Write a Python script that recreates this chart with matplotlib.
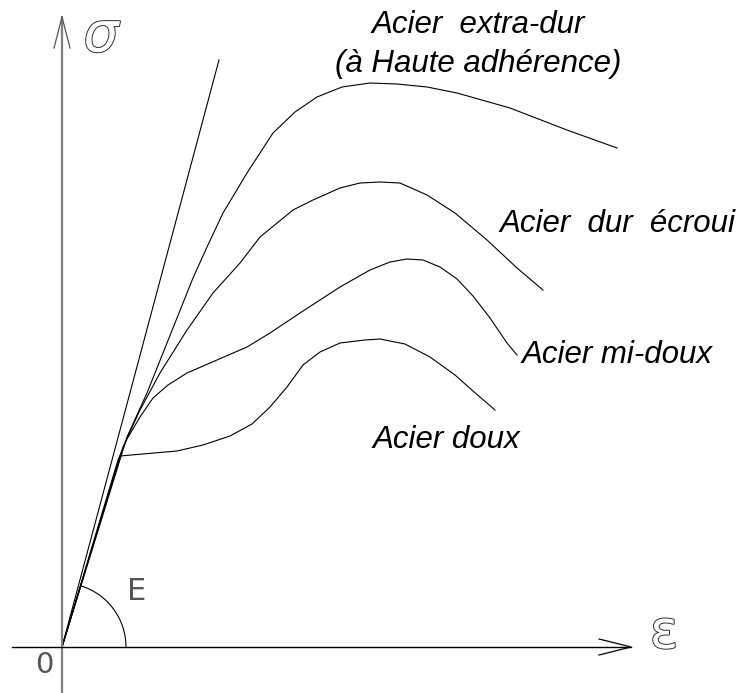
import numpy as np
import matplotlib
matplotlib.use("Agg")
import matplotlib.pyplot as plt
from matplotlib.patches import Arc
import matplotlib.patheffects as pe

# ---- data (strain, stress), arbitrary units ----
elastic_eps = [0, 157]
elastic_sig = [0, 587]

extra_dur_eps = [0, 65, 85, 105, 125, 131, 145, 161, 185, 211, 233, 255, 280, 308, 335, 365, 395, 448, 505, 555]
extra_dur_sig = [0, 210, 254, 304, 354, 369, 400, 434, 474, 514, 535, 550, 560, 564, 563, 560, 554, 539, 517, 499]

dur_ecroui_eps = [0, 61, 78, 98, 125, 151, 178, 198, 231, 251, 278, 298, 318, 338, 365, 393, 425, 455, 481]
dur_ecroui_sig = [0, 200, 237, 274, 317, 354, 384, 410, 437, 447, 459, 464, 465, 464, 452, 434, 407, 379, 357]

mi_doux_eps = [0, 56, 65, 78, 91, 106, 125, 155, 185, 208, 238, 278, 308, 328, 345, 361, 378, 395, 411, 428, 445, 455]
mi_doux_sig = [0, 187, 208, 230, 249, 262, 274, 287, 300, 314, 334, 360, 377, 385, 388, 387, 380, 368, 351, 329, 304, 292]

doux_eps = [0, 58, 115, 141, 168, 190, 208, 225, 241, 258, 278, 303, 318, 343, 368, 393, 411, 433]
doux_sig = [0, 191, 196, 202, 211, 223, 240, 260, 282, 295, 304, 307, 308, 303, 290, 272, 256, 237]

curve_labels = ["Acier  extra-dur", "(à Haute adhérence)", "Acier  dur  écroui", "Acier mi-doux", "Acier doux"]

# ---- figure ----
fig = plt.figure(figsize=(7.43, 6.93), dpi=100)
ax = fig.add_axes([0, 0, 1, 1])
ax.set_xlim(-62, 681)
ax.set_ylim(-46, 647)
ax.axis("off")

lw = 0.8
for e, s in [(elastic_eps, elastic_sig), (extra_dur_eps, extra_dur_sig),
             (dur_ecroui_eps, dur_ecroui_sig), (mi_doux_eps, mi_doux_sig),
             (doux_eps, doux_sig)]:
    ax.plot(e, s, color="black", lw=lw, solid_joinstyle="round")

# axes with arrows
ax.plot([0, 0], [-46, 630], color="#808080", lw=1.6)
ax.plot([-8, 0, 8], [599, 630, 599], color="#555555", lw=0.9)
ax.plot([-50, 569], [0, 0], color="black", lw=1.0)
ax.plot([537, 569, 537], [8, 0, -8], color="black", lw=0.9)

# angle arc E
ax.add_patch(Arc((0, 0), 128, 128, theta1=0, theta2=73, color="black", lw=0.8))

# text
tf = dict(family=["Liberation Sans", "DejaVu Sans"], style="italic", fontsize=22.5,
          ha="left", va="baseline", color="black")
ax.text(310, 614, curve_labels[0], **tf)
ax.text(273, 575, curve_labels[1], **tf)
ax.text(438, 415, curve_labels[2], **tf)
ax.text(460, 284, curve_labels[3], **tf)
ax.text(311, 199, curve_labels[4], **tf)

outline = [pe.withStroke(linewidth=1.3, foreground="#222222")]
ax.text(39, 611, "σ", fontsize=40, style="italic", family="DejaVu Sans",
        ha="center", va="center", color="white", path_effects=outline)
ax.text(602, 14, "ε", fontsize=38, family="DejaVu Sans",
        ha="center", va="center", color="white", path_effects=outline)
ax.text(-18, -18, "0", fontsize=21, family=["Liberation Sans Narrow", "DejaVu Sans"],
        ha="center", va="center", color="#555555")
ax.text(75, 56, "E", fontsize=22, family=["Liberation Sans Narrow", "DejaVu Sans"],
        ha="center", va="center", color="#555555")

fig.savefig("out.png", dpi=100)
